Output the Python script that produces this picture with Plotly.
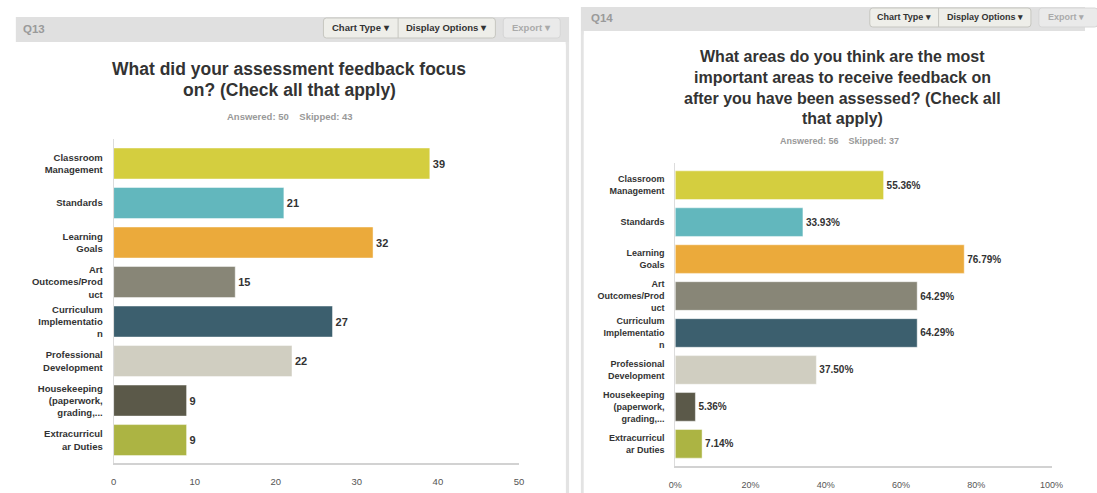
import plotly.graph_objects as go

W, H = 1097, 493

# Answer options (shared by both questions)
categories = [
    "Classroom<br>Management",
    "Standards",
    "Learning<br>Goals",
    "Art<br>Outcomes/Prod<br>uct",
    "Curriculum<br>Implementatio<br>n",
    "Professional<br>Development",
    "Housekeeping<br>(paperwork,<br>grading,...",
    "Extracurricul<br>ar Duties",
]

# Q13: number of respondents per option
q13_counts = [39, 21, 32, 15, 27, 22, 9, 9]
# Q14: percentage of respondents per option
q14_percent = [55.36, 33.93, 76.79, 64.29, 64.29, 37.50, 5.36, 7.14]

bar_colors = [
    "#D4CE3F", "#62B7BD", "#EBAA3B", "#888677",
    "#3C5F6E", "#D0CEC1", "#5B5949", "#ACB443",
]

q13_ticks = [0, 10, 20, 30, 40, 50]
q14_ticks = [0, 20, 40, 60, 80, 100]
q14_tick_labels = ["0%", "20%", "40%", "60%", "80%", "100%"]

q13_title = ["What did your assessment feedback focus", "on? (Check all that apply)"]
q13_sub = "Answered: 50\u00a0\u00a0\u00a0\u00a0Skipped: 43"
q14_title = [
    "What areas do you think are the most",
    "important areas to receive feedback on",
    "after you have been assessed? (Check all",
    "that apply)",
]
q14_sub = "Answered: 56\u00a0\u00a0\u00a0\u00a0Skipped: 37"

FONT = "Liberation Sans, Arial, Helvetica, sans-serif"


def px(x):
    return x / W


def py(y):
    return 1 - y / H


def rounded_rect(x0, y0, x1, y1, r):
    def p(x, y):
        return f"{px(x):.5f},{py(y):.5f}"
    return (
        f"M {p(x0 + r, y0)} L {p(x1 - r, y0)} Q {p(x1, y0)} {p(x1, y0 + r)} "
        f"L {p(x1, y1 - r)} Q {p(x1, y1)} {p(x1 - r, y1)} "
        f"L {p(x0 + r, y1)} Q {p(x0, y1)} {p(x0, y1 - r)} "
        f"L {p(x0, y0 + r)} Q {p(x0, y0)} {p(x0 + r, y0)} Z"
    )


fig = go.Figure()

fig.add_trace(go.Bar(
    x=q13_counts, y=categories, orientation="h",
    xaxis="x", yaxis="y", width=0.785,
    marker=dict(color=bar_colors, line=dict(color="rgba(255,255,255,0.45)", width=1)),
    text=[str(v) for v in q13_counts], textposition="outside",
    textfont=dict(family=FONT, size=11, color="#333", weight="bold"),
    constraintext="none", cliponaxis=False, hoverinfo="skip",
))

fig.add_trace(go.Bar(
    x=q14_percent, y=categories, orientation="h",
    xaxis="x2", yaxis="y2", width=0.775,
    marker=dict(color=bar_colors, line=dict(color="rgba(255,255,255,0.45)", width=1)),
    text=[f"{v:.2f}%" for v in q14_percent], textposition="outside",
    textfont=dict(family=FONT, size=10, color="#333", weight="bold"),
    constraintext="none", cliponaxis=False, hoverinfo="skip",
))

common_x = dict(
    showgrid=True, gridcolor="#FFFFFF", gridwidth=1, zeroline=False,
    showline=True, linecolor="#D2D2D2", linewidth=1.5,
    ticks="", ticklabelstandoff=9, fixedrange=True,
)
common_y = dict(
    type="category", showgrid=False, zeroline=False,
    showline=True, linecolor="#DCDCDC", linewidth=1,
    ticks="", ticklabelstandoff=8, fixedrange=True,
)

fig.update_layout(
    width=W, height=H,
    margin=dict(l=0, r=0, t=0, b=0),
    paper_bgcolor="#FFFFFF", plot_bgcolor="#F0F0F0",
    showlegend=False, bargap=0.2,
    xaxis=dict(domain=[px(108.5), px(521)], range=[0, 50], tickvals=q13_ticks,
               anchor="y", tickfont=dict(family=FONT, size=9.5, color="#555"), **common_x),
    yaxis=dict(domain=[py(463), py(139)], range=[7.58, -0.62],
               categoryorder="array", categoryarray=categories, anchor="x",
               tickfont=dict(family=FONT, size=9.5, color="#333", weight="bold"), **common_y),
    xaxis2=dict(domain=[px(680), px(1063)], range=[0, 100], tickvals=q14_ticks,
                ticktext=q14_tick_labels, anchor="y2",
                tickfont=dict(family=FONT, size=9, color="#555"), **common_x),
    yaxis2=dict(domain=[py(466), py(163)], range=[7.6, -0.6],
                categoryorder="array", categoryarray=categories, anchor="x2",
                tickfont=dict(family=FONT, size=9, color="#333", weight="bold"), **common_y),
)

shapes = []
# panel header bands
shapes.append(dict(type="rect", xref="paper", yref="paper", layer="below",
                   x0=px(9), x1=px(572), y0=py(42), y1=py(17),
                   fillcolor="#E0E0E0", line=dict(width=0)))
shapes.append(dict(type="rect", xref="paper", yref="paper", layer="below",
                   x0=px(584), x1=px(1097), y0=py(31), y1=py(7),
                   fillcolor="#E0E0E0", line=dict(width=0)))
# card edges
shapes.append(dict(type="rect", xref="paper", yref="paper", layer="below",
                   x0=px(568.5), x1=px(572), y0=py(493), y1=py(42),
                   fillcolor="#E3E3E3", line=dict(width=0)))
shapes.append(dict(type="rect", xref="paper", yref="paper", layer="below",
                   x0=px(584), x1=px(587), y0=py(493), y1=py(31),
                   fillcolor="#E3E3E3", line=dict(width=0)))
# card top corners
shapes.append(dict(type="path", xref="paper", yref="paper", layer="below",
                   path=rounded_rect(9, 42, 568.5, 520, 4),
                   fillcolor="#FFFFFF", line=dict(width=0)))
shapes.append(dict(type="path", xref="paper", yref="paper", layer="below",
                   path=rounded_rect(587, 31, 1110, 520, 4),
                   fillcolor="#FFFFFF", line=dict(width=0)))

# toolbar buttons
btn_fill, btn_line = "#EEEEE9", "#C6C6C0"
dis_fill, dis_line = "#EAEAEA", "#D6D6D6"
buttons = [
    # (x0, y0, x1, y1, divider, fill, line)
    (322, 18, 497, 38, 398, btn_fill, btn_line),
    (505, 18, 563, 38, None, dis_fill, dis_line),
    (878, 8, 1042, 27, 948, btn_fill, btn_line),
    (1050, 8, 1110, 27, None, dis_fill, dis_line),
]
for x0, y0, x1, y1, div, fc, lc in buttons:
    shapes.append(dict(type="path", xref="paper", yref="paper",
                       path=rounded_rect(x0, y0, x1, y1, 3),
                       fillcolor=fc, line=dict(color=lc, width=1)))
    if div is not None:
        shapes.append(dict(type="line", xref="paper", yref="paper",
                           x0=px(div), x1=px(div), y0=py(y1), y1=py(y0),
                           line=dict(color=lc, width=1)))

annotations = []


def label(text, x, y, size, color="#333", weight="bold", xanchor="center"):
    annotations.append(dict(
        text=text, x=px(x), y=py(y), xref="paper", yref="paper",
        xanchor=xanchor, yanchor="middle", showarrow=False,
        font=dict(family=FONT, size=size, color=color, weight=weight),
    ))


label("Q13", 14, 29, 11.5, color="#9A9A9A", xanchor="left")
label("Q14", 592, 18, 11.5, color="#9A9A9A", xanchor="left")

label("Chart Type \u25BE", 360, 28, 9.5)
label("Display Options \u25BE", 447.5, 28, 9.5)
label("Export \u25BE", 534, 28, 9.5, color="#AAAAAA")
label("Chart Type \u25BE", 913, 17.5, 9)
label("Display Options \u25BE", 995, 17.5, 9)
label("Export \u25BE", 1057, 17.5, 9, color="#AAAAAA", xanchor="left")

for i, line in enumerate(q13_title):
    label(line, 287, 69.5 + i * 20, 17.5)
label(q13_sub, 288, 116, 9.5, color="#999999")

for i, line in enumerate(q14_title):
    label(line, 850, 57 + i * 20.5, 16)
label(q14_sub, 847, 141, 9, color="#999999")

fig.update_layout(shapes=shapes, annotations=annotations)

fig.write_html("out.html")
